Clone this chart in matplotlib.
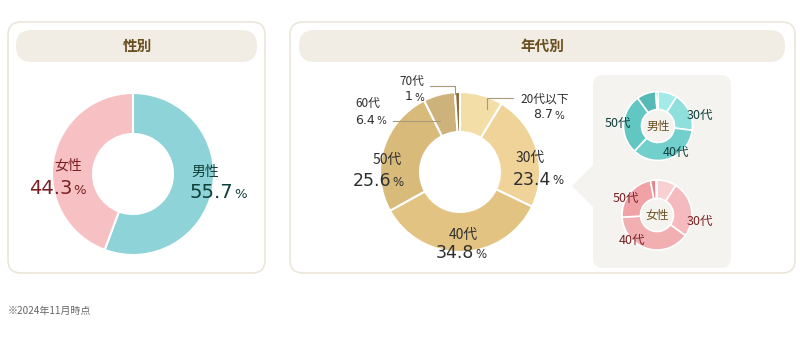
import matplotlib
matplotlib.use("Agg")
import matplotlib.pyplot as plt
from matplotlib.patches import FancyBboxPatch, Polygon

plt.rcParams['font.family'] = ['Noto Sans CJK JP', 'DejaVu Sans']

# ---- data ----
gender_labels = ["男性", "女性"]
gender_values = [55.7, 44.3]
gender_colors = ["#8dd3d8", "#f7c1c4"]

age_labels = ["20代以下", "30代", "40代", "50代", "60代", "70代"]
age_values = [8.7, 23.4, 34.8, 25.6, 6.4, 1.0]
age_colors = ["#f3dea8", "#efd399", "#e2c382", "#d8ba7b", "#cdb27c", "#8c6a33"]

male_age_values = [9, 18, 35, 28, 9, 1]
male_age_colors = ["#a3ebe8", "#8fdfdc", "#72d0cc", "#62c7c2", "#55bab5", "#3d9c97"]
female_age_values = [9, 26, 39, 23, 2.5, 0.5]
female_age_colors = ["#f8d0d2", "#f5babd", "#f2afb2", "#f0a2a7", "#e4848c", "#c96a72"]

W, H = 800, 343
fig = plt.figure(figsize=(W / 100, H / 100), dpi=100)
ax = fig.add_axes([0, 0, 1, 1])

NUMFONT = ["DejaVu Sans"]

def Y(y):
    return H - y

def rbox(x0, y0, x1, y1, r, fc, ec="none", lw=0, z=1):
    p = FancyBboxPatch((x0, Y(y1)), x1 - x0, y1 - y0,
                       boxstyle=f"round,pad=0,rounding_size={r}",
                       fc=fc, ec=ec, lw=lw, zorder=z)
    ax.add_patch(p)

# panels
rbox(8, 22, 265, 273, 13, "white", "#ebe6da", 1.2)
rbox(290, 22, 795, 273, 13, "white", "#ebe6da", 1.2)
rbox(16, 30, 257, 62, 15.5, "#f1ede5", z=2)
rbox(299, 30, 785, 62, 15.5, "#f1ede5", z=2)
title_c = "#6a5020"
ax.text(137, Y(46), "性別", ha="center", va="center", fontsize=10.5,
        fontweight="bold", color=title_c, zorder=3)
ax.text(542, Y(46), "年代別", ha="center", va="center", fontsize=10.5,
        fontweight="bold", color=title_c, zorder=3)

# inset box with pointer
rbox(593, 75, 731, 268, 10, "#f5f3ef", z=2)
ax.add_patch(Polygon([(594, Y(164)), (572, Y(186)), (594, Y(208))],
                     closed=True, fc="#f5f3ef", ec="none", zorder=2))

def donut(cx, cy, r, values, colors, width, lw=1.5):
    ax.pie(values, colors=colors, startangle=90, counterclock=False,
           center=(cx, Y(cy)), radius=r, frame=True,
           wedgeprops=dict(width=width, edgecolor="white", linewidth=lw, zorder=4))

# gender donut
donut(133, 174, 81, gender_values, gender_colors, 41)
f_c = "#7a1f24"
m_c = "#0f3f3a"

def pct(x, y, num, color, size, psize):
    ax.text(x, Y(y), num, ha="right", va="center", fontsize=size, color=color,
            family=NUMFONT, zorder=6)
    ax.text(x + 1.5, Y(y) - 1, "%", ha="left", va="center", fontsize=psize,
            color=color, family=NUMFONT, zorder=6)

def lab(x, y, t, color, size):
    ax.text(x, Y(y), t, ha="center", va="center", fontsize=size, color=color, zorder=6)

lab(68, 166, gender_labels[1], f_c, 10)
pct(72, 189, f"{gender_values[1]}", f_c, 14, 9.5)
lab(205, 172, gender_labels[0], m_c, 10)
pct(233, 193, f"{gender_values[0]}", m_c, 14, 9.5)

# age donut
donut(460, 172, 80, age_values, age_colors, 40)
tc = "#2f2f2f"
lc = "#a89a78"

def fmt(v):
    return f"{v:g}"

# 20代以下
lab(545, 99, age_labels[0], tc, 8.5)
pct(553, 115, fmt(age_values[0]), tc, 9, 7.5)
ax.plot([487, 487, 513], [Y(109), Y(98), Y(98)], color=lc, lw=0.8, zorder=5)
# 30代
lab(530, 158, age_labels[1], tc, 10)
pct(551, 180, fmt(age_values[1]), tc, 12.5, 8.5)
# 40代
lab(463, 235, age_labels[2], tc, 10)
pct(474, 253, fmt(age_values[2]), tc, 12.5, 8.5)
# 50代
lab(387, 160, age_labels[3], tc, 10)
pct(391, 181, fmt(age_values[3]), tc, 12.5, 8.5)
# 60代
lab(368, 103, age_labels[4], tc, 8.5)
pct(375, 120, fmt(age_values[4]), tc, 9, 7.5)
ax.plot([393, 440], [Y(121), Y(121)], color=lc, lw=0.8, zorder=5)
# 70代
lab(412, 81, age_labels[5], tc, 8.5)
pct(413, 97, fmt(age_values[5]), tc, 9, 7.5)
ax.plot([430, 455, 455], [Y(86), Y(86), Y(94)], color=lc, lw=0.8, zorder=5)

# small donuts
donut(658, 126, 34.5, male_age_values, male_age_colors, 18, lw=1.2)
donut(657, 215, 35, female_age_values, female_age_colors, 18.5, lw=1.2)
lab(658, 126, "男性", title_c, 8.5)
lab(657, 215, "女性", title_c, 8.5)
for (x, y, t) in [(700, 115, age_labels[1]), (676, 152, age_labels[2]), (618, 123, age_labels[3])]:
    lab(x, y, t, m_c, 9)
for (x, y, t) in [(700, 221, age_labels[1]), (632, 240, age_labels[2]), (626, 198, age_labels[3])]:
    lab(x, y, t, f_c, 9)

# footnote
ax.text(8, Y(311), "※2024年11月時点", ha="left", va="center", fontsize=7.2, color="#666666")

ax.set_xlim(0, W)
ax.set_ylim(0, H)
ax.set_aspect("auto")
ax.axis("off")
fig.savefig("out.png", dpi=100)
